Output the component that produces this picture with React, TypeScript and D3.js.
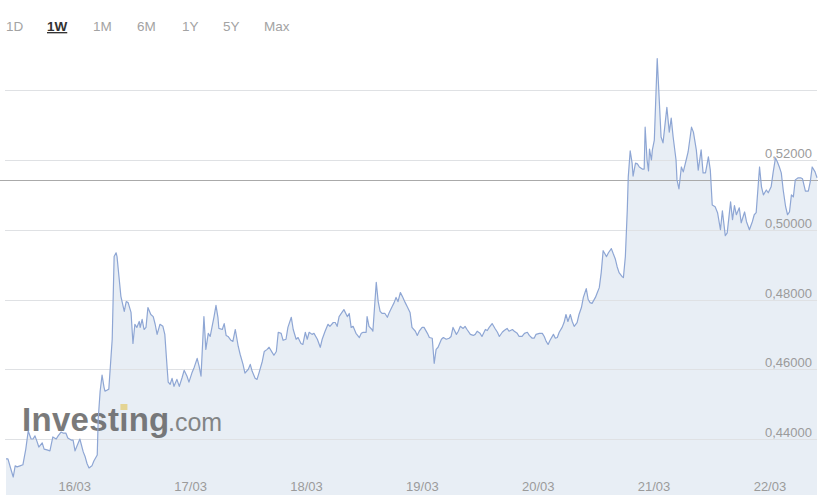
import React, { useLayoutEffect, useRef, useState } from 'react';
import * as d3 from 'd3';

// hours elapsed since 15/03 09:45 (one week window)
const hours = [
  0.0, 0.4, 1.0, 1.5, 1.9, 2.3, 2.9, 3.5, 4.1, 4.6,
  5.2, 5.6, 6.0, 6.4, 6.8, 7.5, 7.9, 8.5, 9.1, 9.7,
  10.4, 10.8, 11.4, 11.8, 12.4, 12.8, 13.5, 13.9, 14.3, 14.7,
  15.3, 16.0, 16.4, 16.8, 17.2, 17.8, 18.2, 18.9, 19.1, 19.5,
  19.9, 20.3, 20.5, 20.9, 21.3, 22.0, 22.4, 22.8, 23.0, 23.4,
  23.8, 24.5, 24.9, 25.3, 25.9, 26.3, 26.7, 27.1, 27.6, 27.8,
  28.2, 28.6, 29.0, 29.4, 30.0, 30.5, 30.9, 31.3, 31.9, 32.5,
  32.9, 33.4, 33.6, 34.0, 34.4, 34.8, 35.4, 35.9, 36.5, 36.9,
  37.5, 37.9, 38.5, 39.0, 39.6, 40.0, 40.4, 41.0, 41.4, 41.9,
  42.3, 42.7, 43.1, 43.5, 43.9, 44.1, 44.8, 45.2, 45.6, 46.0,
  46.6, 47.0, 47.5, 48.1, 48.5, 49.1, 49.5, 50.2, 50.6, 51.0,
  51.6, 52.0, 52.4, 53.1, 53.5, 54.1, 54.5, 55.1, 55.5, 56.0,
  56.4, 57.0, 57.4, 58.0, 58.4, 59.1, 59.5, 60.1, 60.5, 61.1,
  61.5, 62.0, 62.4, 62.8, 63.4, 63.8, 64.5, 65.1, 65.5, 66.1,
  66.7, 67.1, 67.8, 68.2, 68.6, 69.0, 69.6, 70.0, 70.7, 71.1,
  71.5, 71.9, 72.5, 73.2, 73.6, 74.0, 74.6, 74.8, 75.2, 75.8,
  76.0, 76.7, 77.1, 77.5, 77.9, 78.5, 79.0, 79.4, 80.0, 80.4,
  80.8, 81.2, 81.7, 82.1, 82.7, 83.1, 83.7, 84.1, 84.8, 85.2,
  85.6, 86.2, 86.6, 87.3, 87.7, 88.3, 88.7, 89.1, 89.5, 90.2,
  90.6, 91.2, 91.8, 92.2, 92.6, 93.3, 93.7, 94.1, 94.7, 95.1,
  95.5, 96.2, 96.8, 97.2, 97.6, 98.2, 98.6, 99.3, 99.7, 100.1,
  100.7, 101.3, 101.8, 102.2, 102.8, 103.2, 103.8, 104.2, 104.9, 105.3,
  105.9, 106.3, 106.9, 107.4, 108.0, 108.4, 109.0, 109.4, 109.8, 110.5,
  111.1, 111.5, 111.9, 112.3, 112.7, 113.4, 113.8, 114.2, 114.6, 115.2,
  115.6, 116.0, 116.4, 116.9, 117.3, 117.7, 118.3, 118.7, 119.2, 119.6,
  120.2, 120.6, 121.0, 121.4, 122.1, 122.5, 122.9, 123.3, 123.7, 124.4,
  124.8, 125.4, 125.8, 126.2, 126.6, 127.0, 127.6, 127.9, 128.3, 128.7,
  128.9, 129.3, 129.7, 129.9, 130.4, 130.8, 131.2, 131.8, 132.2, 132.4,
  132.8, 133.1, 133.3, 133.7, 133.9, 134.3, 134.9, 135.7, 136.1, 136.9,
  137.4, 137.8, 138.2, 138.8, 139.0, 139.4, 139.9, 140.3, 140.9, 141.3,
  142.0, 142.4, 143.0, 143.4, 144.0, 144.4, 144.9, 145.5, 145.9, 146.3,
  146.9, 147.4, 148.0, 148.4, 149.0, 149.4, 150.1, 150.5, 150.9, 151.3,
  151.9, 152.3, 153.0, 153.4, 154.0, 154.6, 155.0, 155.4, 156.1, 156.5,
  156.9, 157.5, 157.9, 158.5, 158.9, 159.4, 159.8, 160.2, 160.6, 161.0,
  161.5, 161.9, 162.3, 162.7, 163.1, 163.5, 164.1, 164.6, 165.0, 165.6,
  166.2, 166.6, 167.0, 167.6, 168.0,
];

const prices = [
  0.4343, 0.4343, 0.4314, 0.4291, 0.4323, 0.4320, 0.4323, 0.4326, 0.4371, 0.4423,
  0.4400, 0.4400, 0.4409, 0.4394, 0.4377, 0.4389, 0.4371, 0.4369, 0.4366, 0.4406,
  0.4400, 0.4409, 0.4420, 0.4417, 0.4417, 0.4403, 0.4397, 0.4397, 0.4366, 0.4380,
  0.4400, 0.4363, 0.4349, 0.4329, 0.4317, 0.4323, 0.4337, 0.4354, 0.4457, 0.4537,
  0.4583, 0.4549, 0.4537, 0.4540, 0.4543, 0.4686, 0.4923, 0.4934, 0.4923, 0.4866,
  0.4809, 0.4766, 0.4794, 0.4791, 0.4763, 0.4674, 0.4729, 0.4720, 0.4737, 0.4720,
  0.4743, 0.4714, 0.4720, 0.4777, 0.4757, 0.4751, 0.4729, 0.4700, 0.4729, 0.4723,
  0.4700, 0.4600, 0.4563, 0.4557, 0.4574, 0.4551, 0.4571, 0.4551, 0.4577, 0.4597,
  0.4580, 0.4563, 0.4589, 0.4606, 0.4631, 0.4609, 0.4580, 0.4751, 0.4657, 0.4703,
  0.4694, 0.4723, 0.4751, 0.4783, 0.4749, 0.4717, 0.4714, 0.4731, 0.4697, 0.4694,
  0.4683, 0.4680, 0.4714, 0.4666, 0.4643, 0.4614, 0.4589, 0.4600, 0.4614, 0.4594,
  0.4574, 0.4571, 0.4589, 0.4623, 0.4651, 0.4657, 0.4663, 0.4649, 0.4640, 0.4651,
  0.4706, 0.4703, 0.4683, 0.4686, 0.4720, 0.4749, 0.4714, 0.4686, 0.4691, 0.4674,
  0.4671, 0.4706, 0.4686, 0.4706, 0.4700, 0.4703, 0.4686, 0.4663, 0.4686, 0.4709,
  0.4729, 0.4723, 0.4734, 0.4734, 0.4723, 0.4751, 0.4763, 0.4771, 0.4751, 0.4760,
  0.4720, 0.4723, 0.4703, 0.4691, 0.4703, 0.4706, 0.4706, 0.4751, 0.4723, 0.4714,
  0.4709, 0.4849, 0.4794, 0.4766, 0.4760, 0.4760, 0.4749, 0.4763, 0.4780, 0.4791,
  0.4806, 0.4794, 0.4820, 0.4809, 0.4791, 0.4780, 0.4763, 0.4720, 0.4709, 0.4697,
  0.4709, 0.4720, 0.4720, 0.4703, 0.4691, 0.4689, 0.4617, 0.4657, 0.4663, 0.4686,
  0.4691, 0.4686, 0.4689, 0.4694, 0.4720, 0.4700, 0.4709, 0.4723, 0.4717, 0.4723,
  0.4714, 0.4700, 0.4697, 0.4700, 0.4709, 0.4703, 0.4694, 0.4714, 0.4711, 0.4720,
  0.4731, 0.4717, 0.4706, 0.4694, 0.4706, 0.4711, 0.4717, 0.4709, 0.4714, 0.4709,
  0.4703, 0.4694, 0.4694, 0.4703, 0.4706, 0.4697, 0.4689, 0.4689, 0.4700, 0.4703,
  0.4703, 0.4694, 0.4680, 0.4671, 0.4683, 0.4700, 0.4689, 0.4691, 0.4706, 0.4720,
  0.4734, 0.4757, 0.4737, 0.4757, 0.4737, 0.4723, 0.4734, 0.4757, 0.4777, 0.4806,
  0.4831, 0.4800, 0.4791, 0.4789, 0.4806, 0.4820, 0.4834, 0.4877, 0.4940, 0.4923,
  0.4934, 0.4946, 0.4931, 0.4917, 0.4894, 0.4877, 0.4866, 0.4863, 0.4923, 0.5057,
  0.5151, 0.5226, 0.5191, 0.5154, 0.5191, 0.5189, 0.5180, 0.5174, 0.5174, 0.5294,
  0.5200, 0.5169, 0.5231, 0.5200, 0.5229, 0.5257, 0.5491, 0.5266, 0.5249, 0.5351,
  0.5280, 0.5320, 0.5266, 0.5200, 0.5143, 0.5117, 0.5180, 0.5166, 0.5200, 0.5223,
  0.5294, 0.5280, 0.5229, 0.5171, 0.5229, 0.5163, 0.5163, 0.5209, 0.5171, 0.5071,
  0.5066, 0.5049, 0.5000, 0.5054, 0.4983, 0.4991, 0.5080, 0.5029, 0.5069, 0.5043,
  0.5063, 0.5020, 0.5051, 0.5023, 0.5000, 0.5023, 0.5043, 0.5049, 0.5180, 0.5123,
  0.5100, 0.5114, 0.5106, 0.5123, 0.5163, 0.5206, 0.5194, 0.5180, 0.5163, 0.5114,
  0.5066, 0.5043, 0.5051, 0.5100, 0.5094, 0.5143, 0.5149, 0.5149, 0.5146, 0.5111,
  0.5111, 0.5137, 0.5180, 0.5166, 0.5149,
];

const currentPrice = 0.5143;
const gridValues = [0.44, 0.46, 0.48, 0.5, 0.52, 0.54];
const labelValues = [0.44, 0.46, 0.48, 0.5, 0.52];
const dayTicks = [16, 17, 18, 19, 20, 21, 22];
const ranges = ['1D', '1W', '1M', '6M', '1Y', '5Y', 'Max'];
const activeRange = '1W';

const W = 826;
const H = 497;
const startTime = new Date(2023, 2, 15, 9, 45);
const endTime = new Date(startTime.getTime() + 168 * 3600e3);
const tabX = [6, 47, 93, 137, 182, 223, 264];
const FONT = 'Arial, "Liberation Sans", Helvetica, sans-serif';

export default function App() {
  const x = d3.scaleTime().domain([startTime, endTime]).range([6, 817]);
  const y = d3.scaleLinear().domain([0.44, 0.52]).range([439, 160]);
  const bottom = 495;

  const data = hours.map((h, i) => ({
    t: new Date(startTime.getTime() + h * 3600e3),
    v: prices[i],
  }));

  const line = d3
    .line<{ t: Date; v: number }>()
    .x((d) => x(d.t))
    .y((d) => y(d.v));
  const area = d3
    .area<{ t: Date; v: number }>()
    .x((d) => x(d.t))
    .y0(bottom)
    .y1((d) => y(d.v));

  const fmt = (v: number) => d3.format('.5f')(v).replace('.', ',');
  const dayFmt = d3.timeFormat('%d/%m');

  const textRef = useRef<SVGTextElement>(null);
  const [dot, setDot] = useState<{ x: number; w: number } | null>(null);
  useLayoutEffect(() => {
    const el = textRef.current;
    if (el) {
      try {
        const ext = el.getExtentOfChar(6);
        setDot({ x: ext.x, w: ext.width });
      } catch (e) {
        /* ignore */
      }
    }
  }, []);

  return (
    <svg
      width={W}
      height={H}
      style={{ position: 'absolute', left: 0, top: 0, background: '#fff', fontFamily: FONT }}
    >
      {/* range tabs */}
      {ranges.map((r, i) => (
        <text
          key={r}
          x={tabX[i]}
          y={31}
          fontSize={13.5}
          fontWeight={r === activeRange ? 'bold' : 'normal'}
          fill={r === activeRange ? '#333' : '#a3a3a3'}
          textDecoration={r === activeRange ? 'underline' : undefined}
        >
          {r}
        </text>
      ))}

      {/* area fill */}
      <path d={area(data) || ''} fill="#e8eef5" />

      {/* grid */}
      {gridValues.map((v) => (
        <line
          key={v}
          x1={5}
          x2={817}
          y1={Math.round(y(v)) + 0.5}
          y2={Math.round(y(v)) + 0.5}
          stroke="#dfe1e4"
          strokeWidth={1}
        />
      ))}

      {/* watermark */}
      <g opacity={0.82}>
        <text ref={textRef} x={22} y={431} fontSize={33} fontWeight="bold" fill="#5e5e5e" letterSpacing={0.3}>
          {'Investıng'}
        </text>
        <text x={168} y={431} fontSize={25} fill="#6e6e6e">
          .com
        </text>
        {dot && <rect x={dot.x + dot.w / 2 - 3.5} y={404} width={7} height={6} fill="#e4cf7e" />}
      </g>

      {/* current price line */}
      <line
        x1={0}
        x2={818}
        y1={Math.round(y(currentPrice)) + 0.5}
        y2={Math.round(y(currentPrice)) + 0.5}
        stroke="#aaaaaa"
        strokeWidth={1}
      />

      {/* price line */}
      <path d={line(data) || ''} fill="none" stroke="#8ea6d4" strokeWidth={1.2} strokeLinejoin="round" />

      {/* y labels */}
      {labelValues.map((v) => (
        <text key={v} x={812} y={y(v) - 2} fontSize={13} fill="#9b9b9b" textAnchor="end">
          {fmt(v)}
        </text>
      ))}

      {/* x labels */}
      {dayTicks.map((d) => {
        const dt = new Date(2023, 2, d);
        return (
          <text key={d} x={x(dt)} y={491} fontSize={13} fill="#9b9b9b" textAnchor="middle">
            {dayFmt(dt)}
          </text>
        );
      })}
    </svg>
  );
}
